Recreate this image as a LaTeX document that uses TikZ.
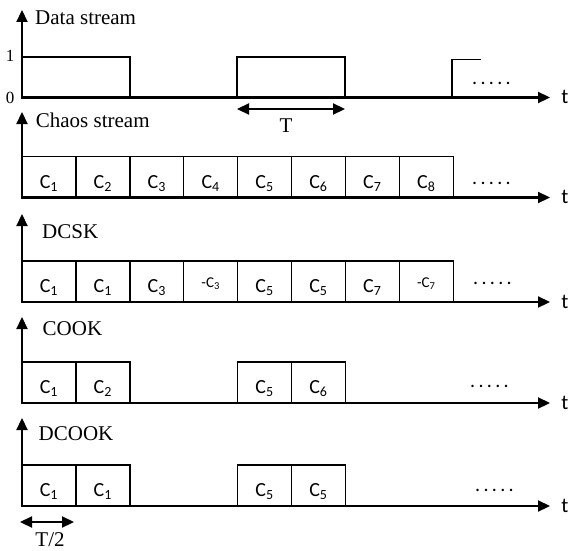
\documentclass[tikz,border=0pt]{standalone}
\usepackage{fontspec}
\setmainfont{Liberation Serif}
\newfontfamily\calibri{Carlito}
\usetikzlibrary{arrows.meta}
\newcommand{\moredots}{.\,.\,.\,.\,.}

\begin{document}
\begin{tikzpicture}[x=1pt,y=-1pt,
        axis/.style={line width=2.2pt,-{Triangle[length=12pt,width=11pt]}},
        span/.style={line width=2.2pt,
          {Triangle[length=12pt,width=11pt]}-{Triangle[length=12pt,width=11pt]}},
        wave/.style={line width=1.5pt},
        cell/.style={rectangle,draw,line width=1.4pt,inner sep=0pt,
          minimum width=53.9pt,minimum height=41pt,text height=22pt,text depth=0pt,
          font=\calibri\fontsize{20}{24}\selectfont},
        negcell/.style={cell,text height=11pt,font=\calibri\fontsize{15}{18}\selectfont},
        title/.style={anchor=base west,inner sep=0pt,font=\fontsize{21}{25}\selectfont},
        tick/.style={anchor=base,inner sep=0pt,font=\fontsize{17}{20}\selectfont},
        tlabel/.style={anchor=base,inner sep=0pt,font=\calibri\fontsize{21}{25}\selectfont},
        more/.style={anchor=base west,inner sep=0pt,font=\calibri\fontsize{20}{24}\selectfont}]
      \useasboundingbox (0,0) rectangle (570,551);
      % axes
      \coordinate (o1) at (21,97.5);  \coordinate (v1) at (22,10);  \coordinate (e1) at (550,97.5);
      \coordinate (o2) at (21,197.5); \coordinate (v2) at (22,112); \coordinate (e2) at (550,197.5);
      \coordinate (o3) at (21,302);   \coordinate (v3) at (22,214); \coordinate (e3) at (550,302);
      \coordinate (o4) at (21,403);   \coordinate (v4) at (22,317); \coordinate (e4) at (550,403);
      \coordinate (o5) at (21,506);   \coordinate (v5) at (22,418); \coordinate (e5) at (550,506);
      \draw[axis] (o1) -- (e1);  \draw[axis] (22,97.5) -- (v1);
      \draw[axis] (o2) -- (e2);  \draw[axis] (22,197.5) -- (v2);
      \draw[axis] (o3) -- (e3);  \draw[axis] (22,302) -- (v3);
      \draw[axis] (o4) -- (e4);  \draw[axis] (22,403) -- (v4);
      \draw[axis] (o5) -- (e5);  \draw[axis] (22,506) -- (v5);
      \node (t1) at (565,103.5) [tlabel] {t};
      \node (t2) at (565,203.5) [tlabel] {t};
      \node (t3) at (565,308) [tlabel] {t};
      \node (t4) at (565,409) [tlabel] {t};
      \node (t5) at (565,512) [tlabel] {t};
      % data stream
      \node (data) at (35,24.3) [title] {Data stream};
      \node (one) at (10,61.7) [tick] {1};
      \node (zero) at (10,103.3) [tick] {0};
      \draw[wave] (22,57) -- (130,57) -- (130,97.5);
      \draw[wave] (237,97.5) -- (237,57) -- (345,57) -- (345,97.5);
      \draw[wave] (452,97.5) -- (452,59.5) -- (481,59.5);
      \node (dots1) at (472,84.3) [more] {\moredots};
      \coordinate (ta) at (237,109);
      \coordinate (tb) at (345,109);
      \draw[span] (ta) -- (tb);
      \node (tT) at (286,132.3) [tick,font=\fontsize{21}{25}\selectfont] {T};
      % chaos stream
      \node (chaos) at (35.7,127.7) [title] {Chaos stream};
      \node (ch1) at (48.95,177) [cell] {C\textsubscript{1}};
      \node (ch2) at (102.85,177) [cell] {C\textsubscript{2}};
      \node (ch3) at (156.75,177) [cell] {C\textsubscript{3}};
      \node (ch4) at (210.65,177) [cell] {C\textsubscript{4}};
      \node (ch5) at (264.55,177) [cell] {C\textsubscript{5}};
      \node (ch6) at (318.45,177) [cell] {C\textsubscript{6}};
      \node (ch7) at (372.35,177) [cell] {C\textsubscript{7}};
      \node (ch8) at (426.25,177) [cell] {C\textsubscript{8}};
      \node (dots2) at (472,184) [more] {\moredots};
      % DCSK
      \node (dcsk) at (42,238.3) [title] {DCSK};
      \node (ds1) at (48.95,281.5) [cell] {C\textsubscript{1}};
      \node (ds2) at (102.85,281.5) [cell] {C\textsubscript{1}};
      \node (ds3) at (156.75,281.5) [cell] {C\textsubscript{3}};
      \node (ds4) at (210.65,281.5) [negcell] {-C\textsubscript{3}};
      \node (ds5) at (264.55,281.5) [cell] {C\textsubscript{5}};
      \node (ds6) at (318.45,281.5) [cell] {C\textsubscript{5}};
      \node (ds7) at (372.35,281.5) [cell] {C\textsubscript{7}};
      \node (ds8) at (426.25,281.5) [negcell] {-C\textsubscript{7}};
      \node (dots3) at (473,284.6) [more] {\moredots};
      % COOK
      \node (cook) at (42.5,335.7) [title] {COOK};
      \node (ck1) at (48.95,382.5) [cell] {C\textsubscript{1}};
      \node (ck2) at (102.85,382.5) [cell] {C\textsubscript{2}};
      \node (ck5) at (264.55,382.5) [cell] {C\textsubscript{5}};
      \node (ck6) at (318.45,382.5) [cell] {C\textsubscript{6}};
      \node (dots4) at (470,387) [more] {\moredots};
      % DCOOK
      \node (dcook) at (38.5,440.7) [title] {DCOOK};
      \node (dk1) at (48.95,485.5) [cell] {C\textsubscript{1}};
      \node (dk2) at (102.85,485.5) [cell] {C\textsubscript{1}};
      \node (dk5) at (264.55,485.5) [cell] {C\textsubscript{5}};
      \node (dk6) at (318.45,485.5) [cell] {C\textsubscript{5}};
      \node (dots5) at (475,491.3) [more] {\moredots};
      \coordinate (ha) at (20,522);
      \coordinate (hb) at (74,522);
      \draw[span] (ha) -- (hb);
      \node (half) at (50,546.5) [tick,font=\fontsize{21}{25}\selectfont] {T/2};
\end{tikzpicture}
\end{document}
